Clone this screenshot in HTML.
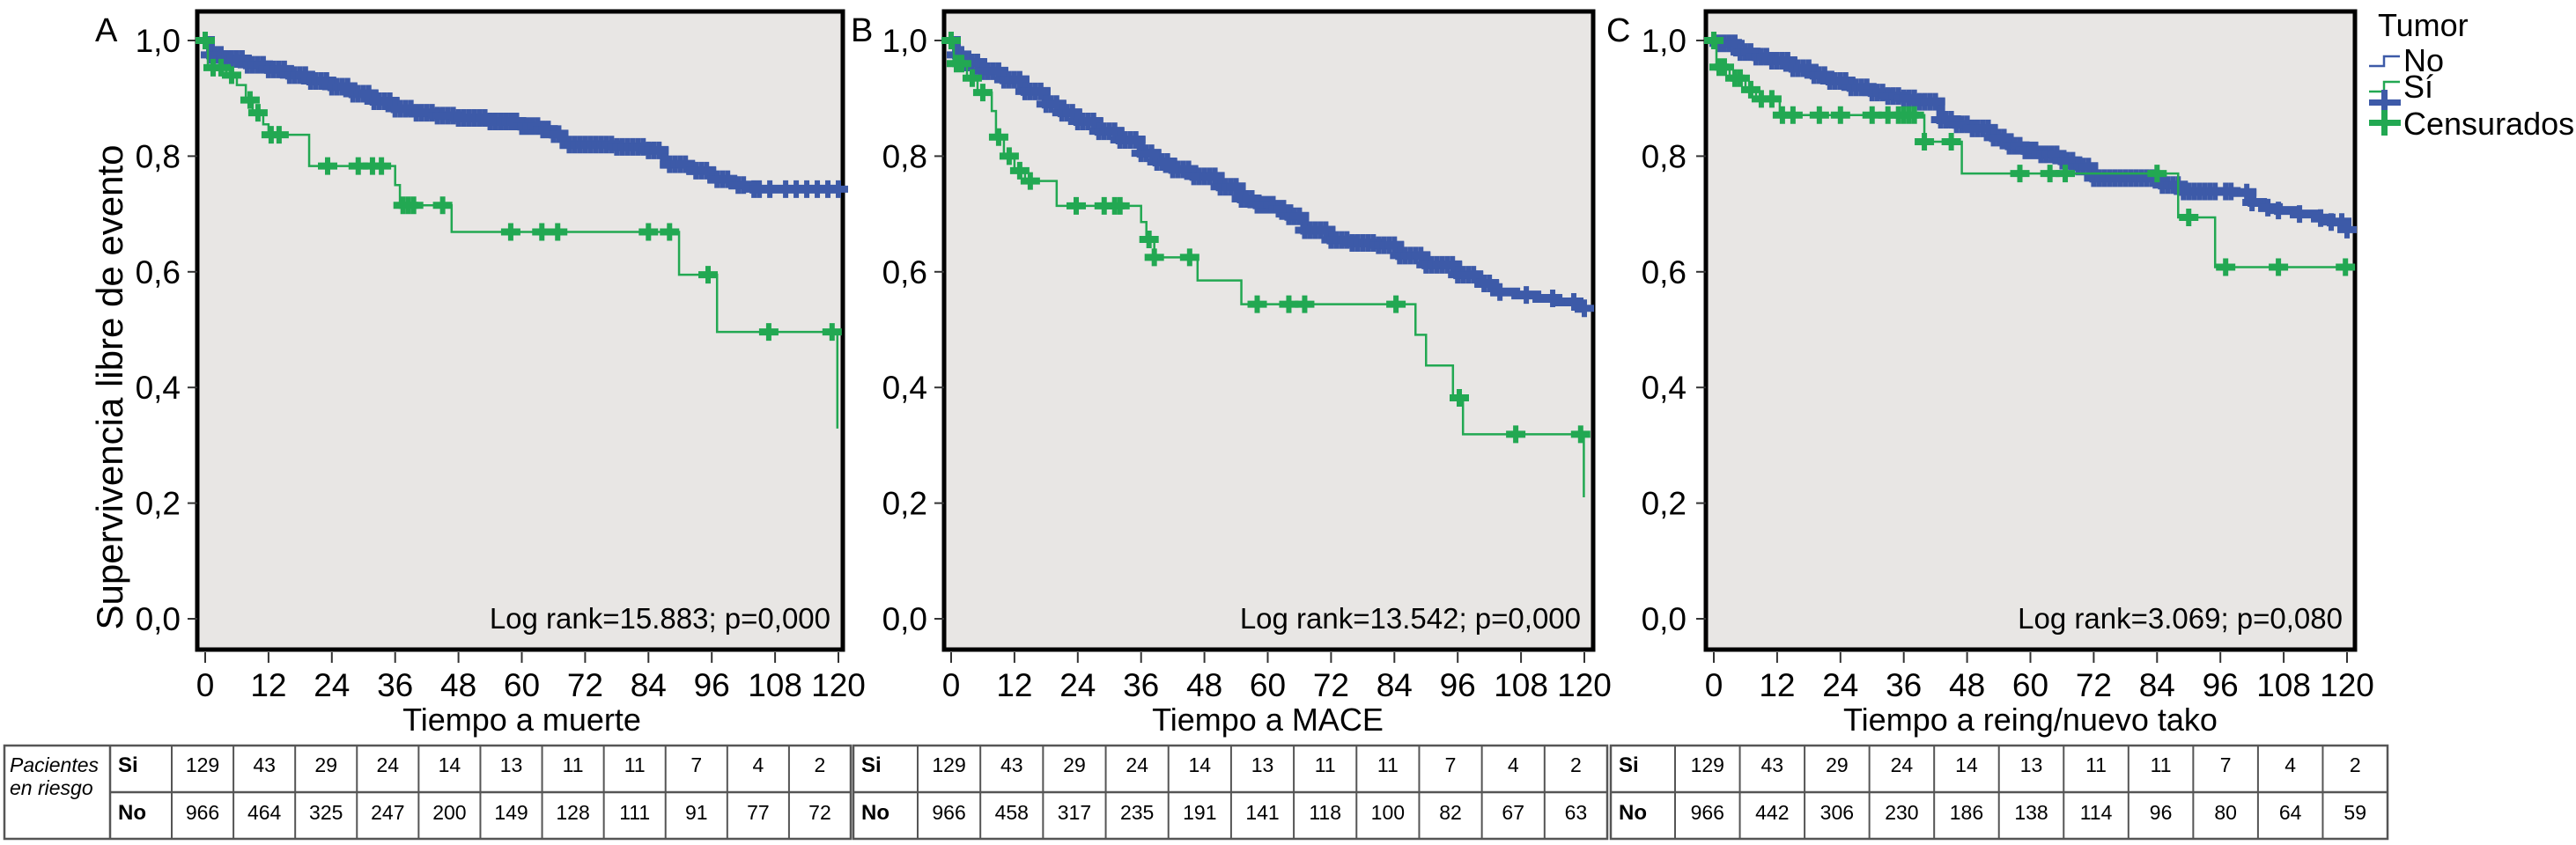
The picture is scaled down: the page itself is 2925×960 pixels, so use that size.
<!DOCTYPE html>
<html><head><meta charset="utf-8">
<style>
html,body{margin:0;padding:0;background:#fff;}
svg{display:block;font-family:"Liberation Sans",sans-serif;}
</style></head>
<body>
<svg id="chart" width="2925" height="960" viewBox="0 0 2925 960" xmlns="http://www.w3.org/2000/svg"></svg>
<script>
// ---------- data ----------
const xTicks = [0,12,24,36,48,60,72,84,96,108,120];
const yTicks = [0,0.2,0.4,0.6,0.8,1.0];
const yTickLabels = ["0,0","0,2","0,4","0,6","0,8","1,0"];

// Panel A (Tiempo a muerte)
const aBlueT = [0,1,4,8,12,16,20,24,28,32,36,40,44,48,54,60,64,66,68,78,84,87,92,96,100,104];
const aBlueS = [1.0,0.975,0.968,0.958,0.95,0.94,0.93,0.92,0.908,0.895,0.882,0.875,0.87,0.866,0.86,0.852,0.846,0.838,0.82,0.816,0.81,0.786,0.775,0.76,0.75,0.743];
const aGreenT = [0,0.5,4,6,7.7,9,11,12,19.7,36,36.9,46.7,89.8,97,119.8];
const aGreenS = [1.0,0.953,0.94,0.923,0.897,0.875,0.855,0.837,0.783,0.75,0.715,0.669,0.595,0.496,0.329];
const aBlueCens = [1,2,3,4,5,6,7,8,9,10,11,12,13,14,15,16,17,18,19,20,21,22,23,24,25,26,27,28,29,30,31,32,33,34,35,36,37,38,39,40,41,42,43,44,45,46,47,48,49,50,51,52,53,54,55,56,57,58,59,60,61,62,63,64,65,66,67,69,70,71,72,73,74,75,76,77,78,79,80,81,82,83,84,85,86,88,89,90,91,93,94,95,97,98,99,101,102,104,105,107,110,112,114,116,118,120];
const aGreenCens = [0,1.5,3,5,8.5,10,12.5,14,23.2,29,31.7,33.4,37.5,38.5,39.5,45,57.9,63.8,66.8,84,88,95.3,106.8,118.8];

// Panel B (Tiempo a MACE)
const bBlueT = [0,1,3,6,10,14,18,21,24,28,32,36,39,42,46,51,55,58,62,64,67,72,76,81,85,90,96,100,103,107,111,115,119];
const bBlueS = [1.0,0.975,0.962,0.947,0.932,0.912,0.89,0.875,0.86,0.843,0.828,0.805,0.79,0.777,0.765,0.747,0.726,0.716,0.709,0.696,0.672,0.655,0.65,0.646,0.628,0.612,0.595,0.58,0.565,0.56,0.554,0.548,0.537];
const bGreenT = [0,0.5,3,5,7.7,8.5,10,12,14,20,36,37,38.5,46.7,55,88,90,95.1,97,119.9];
const bGreenS = [1.0,0.96,0.935,0.91,0.878,0.833,0.8,0.775,0.757,0.714,0.686,0.656,0.625,0.585,0.544,0.491,0.438,0.382,0.319,0.21];
const bBlueCens = [1,2,3,4,5,6,7,8,9,10,11,12,13,14,15,16,17,18,19,20,21,22,23,24,25,26,27,28,29,30,31,32,33,34,35,36,37,38,39,40,41,42,43,44,45,46,47,48,49,50,51,52,53,54,55,56,57,58,59,60,61,62,63,64,65,66,67,68,69,70,71,72,73,74,75,76,77,78,79,80,81,82,83,84,85,86,87,88,89,90,91,92,93,94,95,96,97,98,99,101,102,104,109,114,118,120];
const bGreenCens = [0,1,2,4,6,9,11,13,15,23.7,29,31,32,37.5,38.5,45.2,58,64,67,84.3,96.3,107,119.3];

// Panel C (Tiempo a reing/nuevo tako)
const cBlueT = [0,1,4.5,8,11,15,19,22,26,30,33,36,39,43,46,49,53,56,59,62,66,69,72,85,89,99,102,104,107,110,114,117,120];
const cBlueS = [1.0,0.995,0.98,0.972,0.965,0.952,0.94,0.93,0.919,0.91,0.904,0.9,0.894,0.863,0.855,0.848,0.832,0.818,0.81,0.803,0.792,0.782,0.762,0.75,0.739,0.737,0.72,0.711,0.706,0.7,0.693,0.686,0.673];
const cGreenT = [0,0.5,3,6,8,12.5,39.9,47,88,95];
const cGreenS = [1.0,0.954,0.935,0.915,0.899,0.871,0.825,0.77,0.694,0.608];
const cBlueCens = [1,2,3,4,5,6,7,8,9,10,11,12,13,14,15,16,17,18,19,20,21,22,23,24,25,26,27,28,29,30,31,32,33,34,35,36,37,38,39,40,41,42,43,44,45,46,47,48,49,50,51,52,53,54,55,56,57,58,59,60,61,62,63,64,65,66,67,68,69,70,71,72,73,74,75,76,77,78,79,80,81,82,83,84,85,86,87,88,89,90,91,92,93,94,95,97,98,101,102,105,107,111,115,117,119,120];
const cGreenCens = [0,1,2,4,5,7,9,11,13,15,20,24,30,33,35,36,37,38,39.9,45,58,63.7,66.6,84,90,97,107,119.7];

// At-risk table values
const riskSiA = [129,43,29,24,14,13,11,11,7,4,2];
const riskNoA = [966,464,325,247,200,149,128,111,91,77,72];
const riskSiB = [129,43,29,24,14,13,11,11,7,4,2];
const riskNoB = [966,458,317,235,191,141,118,100,82,67,63];
const riskSiC = [129,43,29,24,14,13,11,11,7,4,2];
const riskNoC = [966,442,306,230,186,138,114,96,80,64,59];

// ---------- drawing ----------
const NS = "http://www.w3.org/2000/svg";
const svg = document.getElementById("chart");
const BLUE = "#3d5aa8", GREEN = "#22a852";
function el(tag, attrs, parent){ const e=document.createElementNS(NS,tag); for(const k in attrs) e.setAttribute(k,attrs[k]); (parent||svg).appendChild(e); return e; }
function txt(s, attrs, parent){ const e=el("text",attrs,parent); e.textContent=s; return e; }

const TOP=13, BOT=738, Y0=703, Y1=46;
function yS(s){ return Y0 - s*(Y0-Y1); }

function survAt(T,S,t){ let v=S[0]; for(let i=0;i<T.length;i++){ if(T[i]<=t) v=S[i]; } return v; }

function marker(g,x,y,color,name){
  const p=el("path",{d:`M${x-3},${y-10}h6v6l2,0v0h6v8h-6v0l-2,0v6h-6v-6l-2,0h-6v-8h6l2,0z`,fill:color},g);
  
  
}

function drawPanel(cfg){
  const g=el("g",{});
  
  
  const xT = t => cfg.x0 + t/120*(cfg.x120-cfg.x0);
  const bg=el("rect",{x:cfg.boxL,y:TOP,width:cfg.boxR-cfg.boxL,height:BOT-TOP,fill:"#e8e6e4",stroke:"#000","stroke-width":5},g);
  
  
  const L=txt(cfg.letter,{x:cfg.letterX,y:47,"font-size":38,fill:"#000"},g);
  
  
  yTicks.forEach((v,i)=>{
    el("line",{x1:cfg.boxL-11,x2:cfg.boxL,y1:yS(v),y2:yS(v),stroke:"#333","stroke-width":2},g);
    const t=txt(yTickLabels[i],{x:cfg.yLabR,y:yS(v)+13,"font-size":37,"text-anchor":"end",fill:"#000"},g);
    
    
  });
  xTicks.forEach(v=>{
    el("line",{x1:xT(v),x2:xT(v),y1:741,y2:753,stroke:"#333","stroke-width":2},g);
    const t=txt(String(v),{x:xT(v),y:791,"font-size":37,"text-anchor":"middle",fill:"#000"},g);
    
    
  });
  const xt=txt(cfg.title,{x:(cfg.x0+cfg.x120)/2,y:830,"font-size":36,"text-anchor":"middle",fill:"#000"},g);
  
  
  const lr=txt(cfg.logrank,{x:cfg.boxR-14,y:714,"font-size":33,"text-anchor":"end",fill:"#000"},g);
  
  
  function stepPath(T,S,endT){
    let d=`M${xT(T[0])},${yS(S[0])}`;
    for(let i=1;i<T.length;i++){ d+=`H${xT(T[i])}V${yS(S[i])}`; }
    d+=`H${xT(endT)}`; return d;
  }
  const bl=el("path",{d:stepPath(cfg.bT,cfg.bS,120),fill:"none",stroke:BLUE,"stroke-width":10},g);
  
  
  cfg.bC.forEach(t=>marker(g,xT(t),yS(survAt(cfg.bT,cfg.bS,t)),BLUE,'censor-mark-no'));
  const gl=el("path",{d:stepPath(cfg.gT,cfg.gS,Math.max(cfg.gT[cfg.gT.length-1],cfg.gC[cfg.gC.length-1])),fill:"none",stroke:GREEN,"stroke-width":2.5},g);
  
  
  cfg.gC.forEach(t=>marker(g,xT(t),yS(survAt(cfg.gT,cfg.gS,t)),GREEN,'censor-mark-si'));
}

drawPanel({id:"panel-a",letter:"A",letterX:108,boxL:224,boxR:957,x0:233,x120:952,yLabR:205,title:"Tiempo a muerte",logrank:"Log rank=15.883; p=0,000",bT:aBlueT,bS:aBlueS,bC:aBlueCens,gT:aGreenT,gS:aGreenS,gC:aGreenCens});
drawPanel({id:"panel-b",letter:"B",letterX:966,boxL:1072,boxR:1809,x0:1080,x120:1799,yLabR:1053,title:"Tiempo a MACE",logrank:"Log rank=13.542; p=0,000",bT:bBlueT,bS:bBlueS,bC:bBlueCens,gT:bGreenT,gS:bGreenS,gC:bGreenCens});
drawPanel({id:"panel-c",letter:"C",letterX:1824,boxL:1937,boxR:2674,x0:1946,x120:2665,yLabR:1915,title:"Tiempo a reing/nuevo tako",logrank:"Log rank=3.069; p=0,080",bT:cBlueT,bS:cBlueS,bC:cBlueCens,gT:cGreenT,gS:cGreenS,gC:cGreenCens});

const yt=txt("Supervivencia libre de evento",{x:0,y:0,"font-size":42,"text-anchor":"middle",transform:"translate(139,440) rotate(-90)",fill:"#000"});



const lg=el("g",{});


const lt=txt("Tumor",{x:2700,y:41,"font-size":36,fill:"#000"},lg);


el("path",{d:"M2690,75H2707V64H2725",fill:"none",stroke:BLUE,"stroke-width":2.5},lg);
const l1=txt("No",{x:2729,y:81,"font-size":36,fill:"#000"},lg);


el("path",{d:"M2690,104H2707V93H2725",fill:"none",stroke:GREEN,"stroke-width":2.5},lg);
const l2=txt("Sí",{x:2729,y:111,"font-size":36,fill:"#000"},lg);


el("rect",{x:2690,y:113,width:36,height:7,fill:BLUE},lg);
el("rect",{x:2704,y:102,width:7,height:28,fill:BLUE},lg);
el("rect",{x:2690,y:136,width:36,height:7,fill:GREEN},lg);
el("rect",{x:2704,y:125,width:7,height:29,fill:GREEN},lg);
const l3=txt("Censurados",{x:2729,y:153,"font-size":36,fill:"#000"},lg);



const T_TOP=847, T_MID=900, T_BOT=953;
function drawTable(id,left,siL,colsR,si,no,withLabel){
  const g=el("g",{});
  
  
  const numL=siL+ (withLabel?70:73);
  const w=(colsR-numL)/11;
  el("rect",{x:left,y:T_TOP,width:colsR-left,height:T_BOT-T_TOP,fill:"#fff",stroke:"#555","stroke-width":2.5},g);
  el("line",{x1:siL,x2:colsR,y1:T_MID,y2:T_MID,stroke:"#555","stroke-width":2.5},g);
  if(siL>left+5) el("line",{x1:siL,x2:siL,y1:T_TOP,y2:T_BOT,stroke:"#555","stroke-width":2.5},g);
  for(let i=0;i<=11;i++){ el("line",{x1:numL+i*w,x2:numL+i*w,y1:T_TOP,y2:T_BOT,stroke:"#555","stroke-width":2},g); }
  txt("Si",{x:siL+9,y:877,"font-size":24,"font-weight":"bold",fill:"#000"},g);
  txt("No",{x:siL+9,y:931,"font-size":24,"font-weight":"bold",fill:"#000"},g);
  si.forEach((v,i)=>{ const t=txt(String(v),{x:numL+(i+0.5)*w,y:877,"font-size":23,"text-anchor":"middle",fill:"#000"},g);
    
     });
  no.forEach((v,i)=>{ const t=txt(String(v),{x:numL+(i+0.5)*w,y:931,"font-size":23,"text-anchor":"middle",fill:"#000"},g);
    
     });
  if(withLabel){
    txt("Pacientes",{x:left+6,y:877,"font-size":23,"font-style":"italic",fill:"#000"},g);
    txt("en riesgo",{x:left+6,y:903,"font-size":23,"font-style":"italic",fill:"#000"},g);
  }
}
drawTable("risk-table-a",5,125,966,riskSiA,riskNoA,true);
drawTable("risk-table-b",969,969,1825,riskSiB,riskNoB,false);
drawTable("risk-table-c",1829,1829,2711,riskSiC,riskNoC,false);
</script>
</body></html>
